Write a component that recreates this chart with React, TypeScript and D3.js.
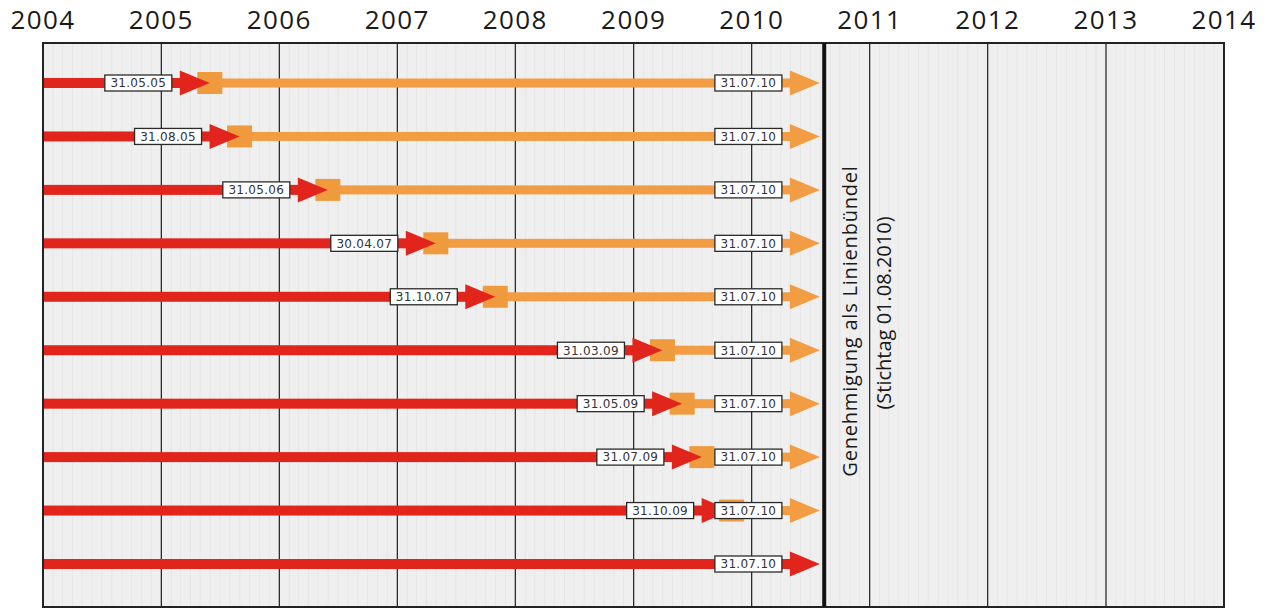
import { useEffect, useRef } from 'react';
import * as d3 from 'd3';

// Achse: Jahre oben
const years = d3.range(2004, 2015);

// Beginn der Übergangsphase je Zeile (null = nur rote Linie bis Ende)
const startDates: (string | null)[] = [
  '31.05.05',
  '31.08.05',
  '31.05.06',
  '30.04.07',
  '31.10.07',
  '31.03.09',
  '31.05.09',
  '31.07.09',
  '31.10.09',
  null,
];

const endDate = '31.07.10';
const stichtag = '01.08.10';
const noteLines = ['Genehmigung als Linienbündel', '(Stichtag 01.08.2010)'];

const RED = '#e1251c';
const ORANGE = '#f29d43';

export default function App() {
  const svgRef = useRef<SVGSVGElement>(null);
  const width = 1279;
  const height = 608;

  useEffect(() => {
    if (!svgRef.current) return;
    const svg = d3.select(svgRef.current);
    svg.selectAll('*').remove();

    const parse = d3.timeParse('%d.%m.%y');
    const left = 43, right = 1224, top = 43, bottom = 607;

    const x = d3.scaleTime()
      .domain([new Date(2004, 0, 1), new Date(2014, 0, 1)])
      .range([left, right]);

    const y = d3.scalePoint<number>()
      .domain(d3.range(startDates.length))
      .range([83, 564]);

    const headLen = 30;
    const headHalf = 12.5;
    const tri = (tip: number, cy: number) =>
      d3.line()([[tip - headLen, cy - headHalf], [tip, cy], [tip - headLen, cy + headHalf]]) + 'Z';

    // Hintergrund
    svg.append('rect')
      .attr('x', left).attr('y', top)
      .attr('width', right - left).attr('height', bottom - top)
      .attr('fill', '#efefef');

    // feines Raster (Monate)
    svg.append('g')
      .selectAll('line')
      .data(d3.timeMonth.range(x.domain()[0], x.domain()[1]))
      .join('line')
      .attr('x1', d => x(d)).attr('x2', d => x(d))
      .attr('y1', top).attr('y2', bottom)
      .attr('stroke', '#e6e6e6')
      .attr('stroke-width', 1);

    // Jahreslinien
    svg.append('g')
      .selectAll('line')
      .data(years.slice(1, -1))
      .join('line')
      .attr('x1', d => x(new Date(d, 0, 1))).attr('x2', d => x(new Date(d, 0, 1)))
      .attr('y1', top).attr('y2', bottom)
      .attr('stroke', '#1e1e1e')
      .attr('stroke-width', 1.2);

    // Jahresbeschriftung
    svg.append('g')
      .selectAll('text')
      .data(years)
      .join('text')
      .attr('x', d => x(new Date(d, 0, 1)))
      .attr('y', 29)
      .attr('text-anchor', 'middle')
      .attr('font-family', 'Open Sans, sans-serif')
      .attr('font-size', 26)
      .attr('letter-spacing', 1.4)
      .attr('fill', '#1a1a1a')
      .text(d => d);

    const end = parse(endDate)!;
    const xEnd = x(end);

    const rows = startDates.map((s, i) => ({ i, start: s ? parse(s)! : null, label: s, cy: y(i)! }));

    const g = svg.append('g');

    // orange Balken + Pfeile
    rows.filter(r => r.start).forEach(r => {
      const xs = x(r.start!);
      g.append('rect')
        .attr('x', xs).attr('y', r.cy - 4.5)
        .attr('width', xEnd - headLen - xs + 1).attr('height', 9)
        .attr('fill', ORANGE);
      g.append('path').attr('d', tri(xEnd, r.cy)).attr('fill', ORANGE);
      g.append('rect')
        .attr('x', xs - 12.5).attr('y', r.cy - 11)
        .attr('width', 25).attr('height', 22)
        .attr('fill', '#f09a3e');
    });

    // rote Balken + Pfeile
    rows.forEach(r => {
      const tip = r.start ? x(r.start) : xEnd;
      g.append('rect')
        .attr('x', left).attr('y', r.cy - 5)
        .attr('width', tip - headLen - left + 1).attr('height', 10)
        .attr('fill', RED);
      g.append('path').attr('d', tri(tip, r.cy)).attr('fill', RED);
    });

    // Datumsboxen
    const box = (xRight: number, cy: number, txt: string) => {
      const bw = 67, bh = 16;
      g.append('rect')
        .attr('x', xRight - bw).attr('y', cy - bh / 2)
        .attr('width', bw).attr('height', bh)
        .attr('fill', '#fff')
        .attr('stroke', '#2a2a2a')
        .attr('stroke-width', 1.3);
      g.append('text')
        .attr('x', xRight - bw / 2).attr('y', cy + 4.3)
        .attr('text-anchor', 'middle')
        .attr('font-family', 'DejaVu Sans, sans-serif')
        .attr('font-size', 12)
        .attr('letter-spacing', 0.3)
        .attr('fill', '#333')
        .text(txt);
    };

    rows.forEach(r => {
      if (r.start) box(x(r.start) - headLen - 8, r.cy, r.label!);
      box(xEnd - headLen - 8, r.cy, endDate);
    });

    // Rahmen
    svg.append('rect')
      .attr('x', left).attr('y', top)
      .attr('width', right - left).attr('height', bottom - top)
      .attr('fill', 'none')
      .attr('stroke', '#222')
      .attr('stroke-width', 2);

    // Stichtag
    const xs = x(parse(stichtag)!) + 4;
    svg.append('line')
      .attr('x1', xs).attr('x2', xs)
      .attr('y1', top).attr('y2', bottom)
      .attr('stroke', '#111')
      .attr('stroke-width', 4);

    const midY = (top + bottom) / 2 - 4;
    noteLines.forEach((t, i) => {
      svg.append('text')
        .attr('transform', `translate(${xs + 33 + i * 34},${midY - i * 8}) rotate(-90)`)
        .attr('text-anchor', 'middle')
        .attr('font-family', 'Open Sans, sans-serif')
        .attr('font-size', 20)
        .attr('letter-spacing', i === 0 ? 0.8 : 0)
        .attr('fill', '#1a1a1a')
        .text(t);
    });
  }, []);

  return (
    <div style={{ position: 'absolute', left: 0, top: 0, background: '#fff' }}>
      <svg ref={svgRef} width={width} height={height} style={{ display: 'block' }}></svg>
    </div>
  );
}
